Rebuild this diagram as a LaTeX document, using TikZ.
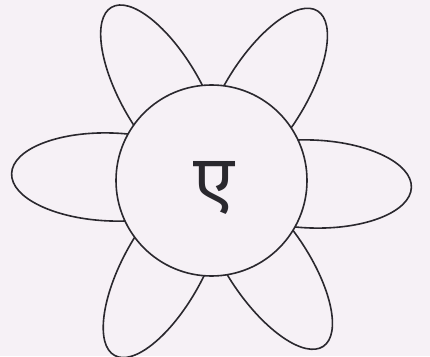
\documentclass[tikz,border=0pt]{standalone}
\usepackage{fontspec}
\usepackage{xcolor}
\usepackage{tikz}
\newfontfamily\devfont[Script=Devanagari]{Noto Sans}
\definecolor{kagaz}{RGB}{246,241,246}
\definecolor{syahi}{RGB}{42,40,46}

\begin{document}
\begin{tikzpicture}[
    x=1pt, y=1pt,
    pankhudi/.style={draw=syahi, line width=1.6pt},
    kendra/.style={circle, draw=syahi, fill=kagaz, line width=1.6pt,
                   minimum size=191pt, inner sep=0pt}
  ]
    \fill[kagaz] (0,0) rectangle (430,356);
    \useasboundingbox (0,0) rectangle (430,356);

    % petals: long ellipses from the middle outwards
    \foreach \ang/\b in {-2/44, 58/40, 120/40, 178/44, 241/40, 304/40}
      \draw[pankhudi, shift={(211.5,175.5)}, rotate=\ang]
        (100,0) ellipse [x radius=100, y radius=\b];

    \node[kendra] (phool) at (211.5,175.5) {};
    \node[text=syahi, font=\devfont\fontsize{74}{74}\selectfont] (akshar)
      at (214,168) {ए};
\end{tikzpicture}
\end{document}
